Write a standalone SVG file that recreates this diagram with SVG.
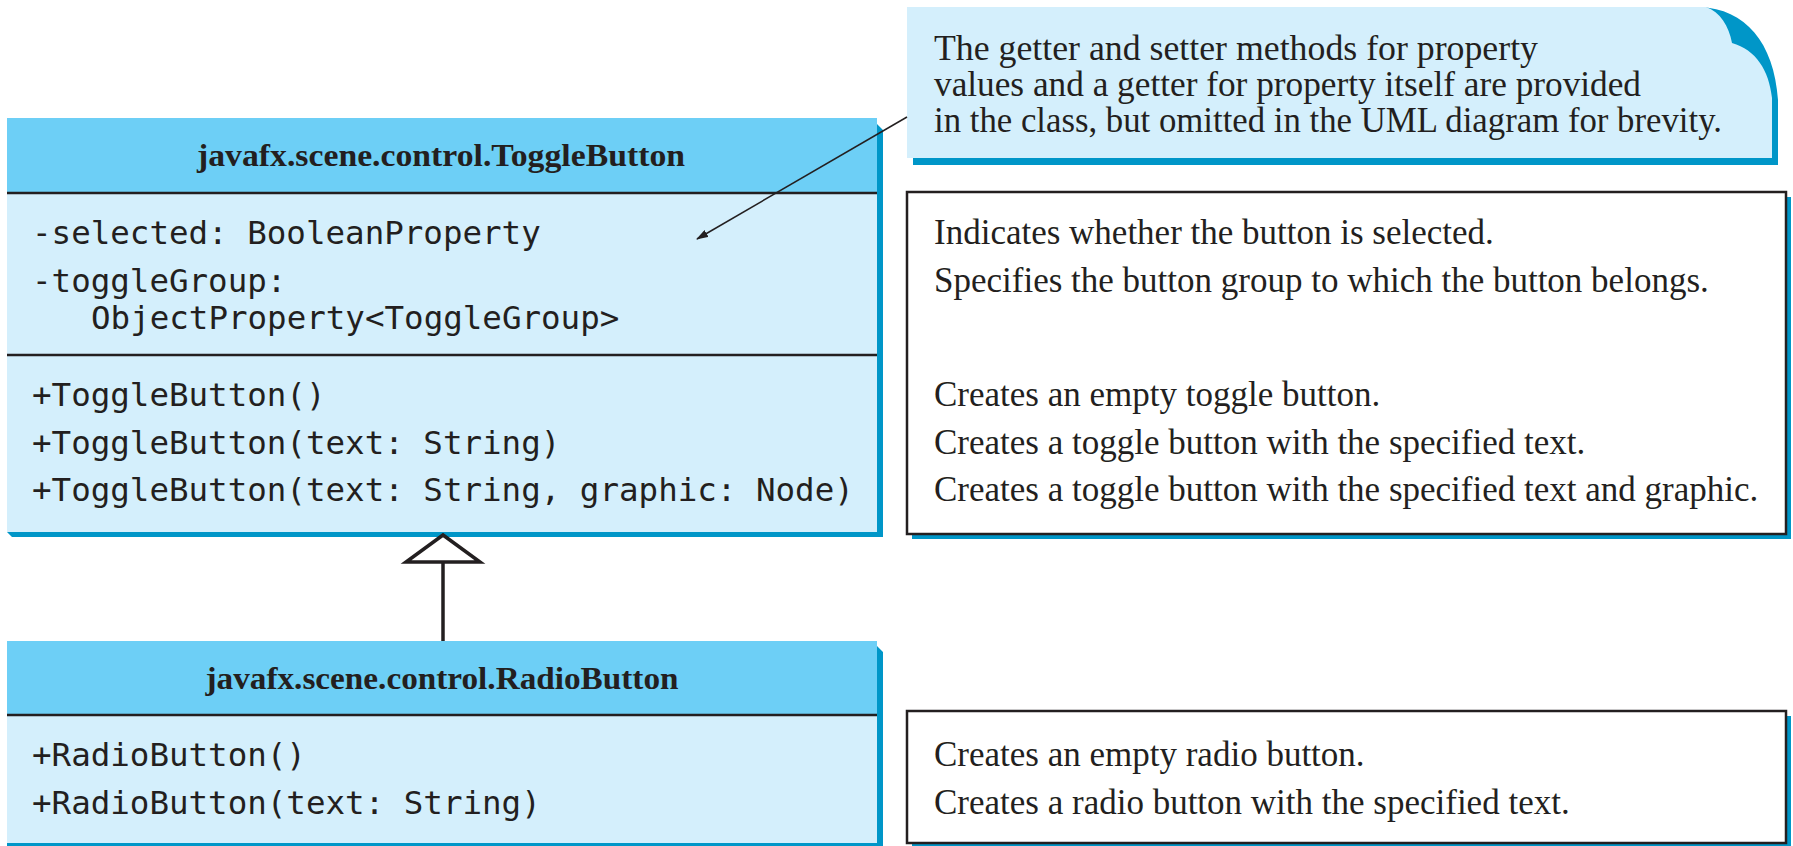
<svg xmlns="http://www.w3.org/2000/svg" width="1793" height="846" viewBox="0 0 1793 846">
<style>
.hdr{fill:#6dcff6}
.body{fill:#d4effc}
.shd{fill:#0096c8}
.div{stroke:#231f20;stroke-width:2.5}
.title{font-family:"Liberation Serif",serif;font-weight:bold;font-size:32px;fill:#231f20;text-anchor:middle}
.mono{font-family:"DejaVu Sans Mono",monospace;font-size:32.5px;fill:#231f20}
.desc{font-family:"Liberation Serif",serif;font-size:35px;fill:#231f20}
.dbox{fill:#ffffff;stroke:#231f20;stroke-width:2.5}
.conn{stroke:#231f20;fill:none}
</style>
<defs>
<marker id="ah" viewBox="0 0 12 8" refX="11" refY="4" markerWidth="12" markerHeight="8" markerUnits="userSpaceOnUse" orient="auto">
<path d="M0,0 L12,4 L0,8 Z" fill="#231f20"/>
</marker>
</defs>
<rect width="1793" height="846" fill="#ffffff"/>

<g id="note">
<path class="shd" d="M913,150 L1700,150 L1700,7 C1745,9 1774,42 1778,100 L1778,165 L913,165 Z"/>
<path class="body" d="M907,7 L1706,7 C1720,12 1729,26 1732,43 C1756,50 1769,70 1772,98 L1772,158 L907,158 Z"/>
<text class="desc" x="934" y="60" textLength="604" lengthAdjust="spacingAndGlyphs">The getter and setter methods for property</text>
<text class="desc" x="934" y="96" textLength="707" lengthAdjust="spacingAndGlyphs">values and a getter for property itself are provided</text>
<text class="desc" x="934" y="132" textLength="788" lengthAdjust="spacingAndGlyphs">in the class, but omitted in the UML diagram for brevity.</text>
</g>

<g id="toggleButton">
<path class="shd" d="M877,124 L883,130 L883,537 L12,537 L7,532 L877,532 Z"/>
<rect class="hdr" x="7" y="118" width="870" height="75"/>
<rect class="body" x="7" y="193" width="870" height="339"/>
<line class="div" x1="7" y1="193" x2="877" y2="193"/>
<line class="div" x1="7" y1="355" x2="877" y2="355"/>
<text class="title" x="441" y="166" textLength="488" lengthAdjust="spacingAndGlyphs">javafx.scene.control.ToggleButton</text>
<text class="mono" x="32" y="244">-selected: BooleanProperty</text>
<text class="mono" x="32" y="292">-toggleGroup:</text>
<text class="mono" x="91" y="329">ObjectProperty&lt;ToggleGroup&gt;</text>
<text class="mono" x="32" y="406">+ToggleButton()</text>
<text class="mono" x="32" y="454">+ToggleButton(text: String)</text>
<text class="mono" x="32" y="501">+ToggleButton(text: String, graphic: Node)</text>
</g>

<g id="toggleDesc">
<rect class="shd" x="912" y="197" width="879" height="342"/>
<rect class="dbox" x="907" y="192" width="879" height="342"/>
<text class="desc" x="934" y="244">Indicates whether the button is selected.</text>
<text class="desc" x="934" y="292">Specifies the button group to which the button belongs.</text>
<text class="desc" x="934" y="406">Creates an empty toggle button.</text>
<text class="desc" x="934" y="454">Creates a toggle button with the specified text.</text>
<text class="desc" x="934" y="501">Creates a toggle button with the specified text and graphic.</text>
</g>

<g id="radioButton">
<path class="shd" d="M877,646 L883,652 L883,846 L7,846 L7,843 L877,843 Z"/>
<rect class="hdr" x="7" y="641" width="870" height="74"/>
<rect class="body" x="7" y="715" width="870" height="128"/>
<line class="div" x1="7" y1="715" x2="877" y2="715"/>
<text class="title" x="442" y="689" textLength="473" lengthAdjust="spacingAndGlyphs">javafx.scene.control.RadioButton</text>
<text class="mono" x="32" y="766">+RadioButton()</text>
<text class="mono" x="32" y="814">+RadioButton(text: String)</text>
</g>

<g id="radioDesc">
<rect class="shd" x="912" y="716" width="879" height="130"/>
<rect class="dbox" x="907" y="711" width="879" height="132"/>
<text class="desc" x="934" y="766">Creates an empty radio button.</text>
<text class="desc" x="934" y="814">Creates a radio button with the specified text.</text>
</g>

<g id="connectors">
<line class="conn" stroke-width="1.5" x1="907" y1="117" x2="697" y2="239" marker-end="url(#ah)"/>
<line class="conn" stroke-width="3.5" x1="443" y1="562" x2="443" y2="641"/>
<path class="conn" stroke-width="3.5" d="M443,535 L480,562 L406,562 Z" style="fill:#ffffff"/>
</g>
</svg>
